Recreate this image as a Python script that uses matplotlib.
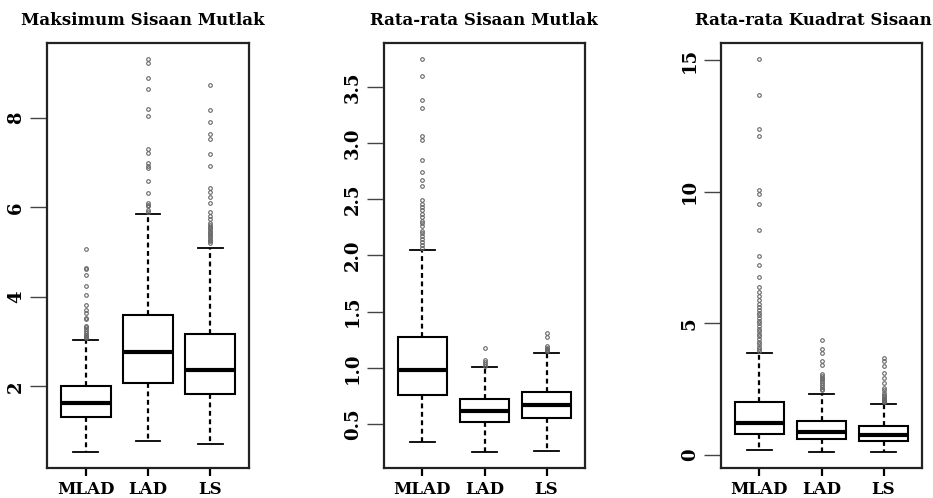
import matplotlib
matplotlib.use("Agg")
import matplotlib.pyplot as plt

methods = ["MLAD", "LAD", "LS"]
titles = ["Maksimum Sisaan Mutlak", "Rata-rata Sisaan Mutlak", "Rata-rata Kuadrat Sisaan"]

# box statistics per panel: (whislo, q1, med, q3, whishi) for MLAD, LAD, LS
max_abs_stats = [(0.53, 1.32, 1.63, 2.00, 3.03),
                 (0.79, 2.08, 2.77, 3.60, 5.85),
                 (0.71, 1.84, 2.37, 3.17, 5.10)]
max_abs_fliers = [
    [3.08, 3.11, 3.13, 3.16, 3.20, 3.24, 3.28, 3.32, 3.35, 3.50, 3.53, 3.65, 3.70, 3.83,
     4.04, 4.25, 4.48, 4.62, 4.65, 5.06],
    [5.90, 5.95, 6.03, 6.06, 6.10, 6.33, 6.58, 6.88, 6.92, 7.00, 7.21, 7.31, 8.04, 8.20,
     8.65, 8.88, 9.22, 9.32],
    [5.20, 5.25, 5.28, 5.31, 5.35, 5.38, 5.42, 5.45, 5.50, 5.53, 5.56, 5.60, 5.65, 5.73,
     5.80, 5.89, 6.10, 6.24, 6.35, 6.43, 6.92, 7.20, 7.53, 7.64, 7.91, 8.17, 8.73],
]

mean_abs_stats = [(0.343, 0.76, 0.978, 1.274, 2.045),
                  (0.248, 0.52, 0.616, 0.72, 1.007),
                  (0.263, 0.557, 0.672, 0.78, 1.13)]
mean_abs_fliers = [
    [2.07, 2.09, 2.12, 2.15, 2.17, 2.20, 2.22, 2.26, 2.29, 2.31, 2.34, 2.37, 2.40, 2.43,
     2.46, 2.49, 2.62, 2.67, 2.74, 2.85, 3.03, 3.06, 3.31, 3.38, 3.60, 3.75],
    [1.02, 1.03, 1.05, 1.07, 1.18],
    [1.15, 1.16, 1.17, 1.18, 1.19, 1.27, 1.31],
]

mse_stats = [(0.17, 0.775, 1.22, 2.00, 3.87),
             (0.10, 0.60, 0.875, 1.28, 2.33),
             (0.10, 0.51, 0.76, 1.08, 1.95)]
mse_fliers = [
    [3.95, 4.02, 4.10, 4.20, 4.30, 4.40, 4.50, 4.60, 4.70, 4.80, 4.90, 5.00, 5.10, 5.20,
     5.30, 5.40, 5.50, 5.60, 5.75, 5.90, 6.05, 6.20, 6.36, 6.76, 7.22, 7.56, 8.56, 9.52,
     9.91, 10.08, 12.13, 12.37, 13.68, 15.05],
    [2.45, 2.52, 2.58, 2.65, 2.72, 2.80, 2.87, 2.93, 3.00, 3.08, 3.42, 3.57, 3.86, 4.04, 4.36],
    [2.00, 2.03, 2.06, 2.10, 2.14, 2.18, 2.22, 2.27, 2.35, 2.45, 2.55, 2.75, 2.92, 3.11,
     3.38, 3.57, 3.69],
]

yticks = [[2, 4, 6, 8], [0.5, 1.0, 1.5, 2.0, 2.5, 3.0, 3.5], [0, 5, 10, 15]]
ytick_labels = [["2", "4", "6", "8"],
                ["0.5", "1.0", "1.5", "2.0", "2.5", "3.0", "3.5"],
                ["0", "5", "10", "15"]]

panels = [(max_abs_stats, max_abs_fliers),
          (mean_abs_stats, mean_abs_fliers),
          (mse_stats, mse_fliers)]

W, H = 933, 498
fig = plt.figure(figsize=(W / 100, H / 100), dpi=100)
font = "DejaVu Serif"

# axes boxes in pixels: left, right
ax_px = [(47, 249), (384, 585), (721, 922)]
title_cx = [143, 484, 813]
top_px, bot_px = 43, 468

for i, (stats, fliers) in enumerate(panels):
    l, r = ax_px[i]
    ax = fig.add_axes([l / W, (H - bot_px) / H, (r - l) / W, (bot_px - top_px) / H])
    bxp_stats = []
    for j, name in enumerate(methods):
        lo, q1, med, q3, hi = stats[j]
        bxp_stats.append(dict(label=name, whislo=lo, q1=q1, med=med, q3=q3,
                              whishi=hi, fliers=fliers[j]))
    ax.bxp(bxp_stats, positions=[1, 2, 3], widths=0.8, capwidths=0.4,
           patch_artist=True,
           boxprops=dict(facecolor="white", edgecolor="black", linewidth=1.5),
           medianprops=dict(color="black", linewidth=3, solid_capstyle="butt"),
           whiskerprops=dict(color="black", linewidth=1.6, linestyle=(0, (2.2, 1.6))),
           capprops=dict(color="black", linewidth=1.3),
           flierprops=dict(marker="o", markersize=2.6, markerfacecolor="none",
                           markeredgecolor="#666666", markeredgewidth=0.8))
    # R style: extend range by 4 %
    all_vals = [s[0] for s in stats] + [v for f in fliers for v in f]
    lo, hi = min(all_vals), max(all_vals)
    pad = (hi - lo) * 0.04
    ax.set_ylim(lo - pad, hi + pad)
    ax.set_xlim(0.38, 3.62)
    ax.set_yticks(yticks[i])
    ax.set_yticklabels(ytick_labels[i], rotation=90, va="center",
                       fontfamily=font, fontweight="bold", fontsize=13)
    ax.set_xticks([1, 2, 3])
    ax.set_xticklabels(methods, fontfamily=font, fontweight="bold", fontsize=12)
    ax.tick_params(axis="x", length=6, width=1.6, color="black", pad=3)
    ax.tick_params(axis="y", length=12, width=1.0, color="#444444", pad=4)
    for sp in ax.spines.values():
        sp.set_linewidth(1.6)
        sp.set_color("#222222")
    fig.text(title_cx[i] / W, 1 - 20 / H, titles[i], ha="center", va="center",
             fontfamily=font, fontweight="bold", fontsize=12)

fig.savefig("out.png", dpi=100)
